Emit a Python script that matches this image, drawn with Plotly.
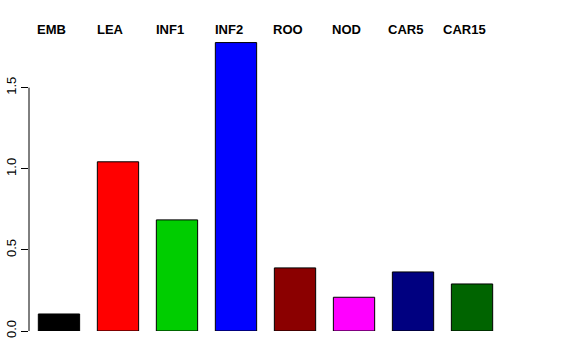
import plotly.graph_objects as go

categories = ["EMB", "LEA", "INF1", "INF2", "ROO", "NOD", "CAR5", "CAR15"]
values = [0.105, 1.043, 0.685, 1.778, 0.389, 0.208, 0.364, 0.290]
colors = ["#000000", "#FF0000", "#00CD00", "#0000FF", "#8B0000", "#FF00FF", "#000080", "#006400"]
yticks = [0, 0.5, 1.0, 1.5]
yticklabels = ["0.0", "0.5", "1.0", "1.5"]

xpos = list(range(len(categories)))

fig = go.Figure()
fig.add_trace(go.Bar(
    x=xpos, y=values, width=0.7,
    marker=dict(color=colors, line=dict(color="black", width=1)),
    showlegend=False, hoverinfo="skip",
))

for i, c in enumerate(categories):
    fig.add_annotation(x=i - 0.12, xref="x", y=1, yref="paper", yshift=10,
                       text="<b>%s</b>" % c, showarrow=False, yanchor="middle",
                       font=dict(family="Liberation Sans, Arial, sans-serif", size=13, color="black"))

fig.add_shape(type="line", xref="paper", x0=0, x1=0, yref="y", y0=yticks[0], y1=yticks[-1],
              line=dict(color="black", width=1))

fig.update_layout(
    width=576, height=360,
    margin=dict(l=29, r=74, t=39, b=29),
    plot_bgcolor="white", paper_bgcolor="white",
    font=dict(family="Liberation Sans, Arial, sans-serif", size=12, color="black"),
    xaxis=dict(range=[-0.508, 7.508], visible=False, fixedrange=True, automargin=False),
    yaxis=dict(range=[0, 1.8], tickvals=yticks, ticktext=yticklabels, tickangle=-90,
               ticks="outside", ticklen=7, tickcolor="black", showgrid=False, zeroline=False,
               showline=False, tickfont=dict(size=13, color="black"), fixedrange=True,
               automargin=False),
)

fig.write_html("out.html")
